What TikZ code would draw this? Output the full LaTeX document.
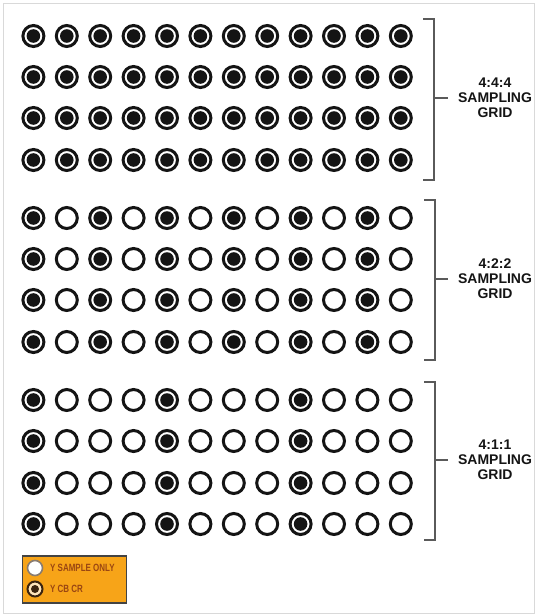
\documentclass[tikz,border=0pt]{standalone}
\usepackage{fontspec}
\setmainfont{Liberation Sans}
\newfontfamily\legfont[FakeStretch=0.76]{Liberation Sans}
\definecolor{ink}{HTML}{141414}
\definecolor{legendbg}{HTML}{F7A418}
\definecolor{legendtx}{HTML}{9A4612}
\definecolor{legring}{HTML}{3A2410}
\tikzset{
  yonly/.style={circle, draw=ink, line width=3pt, fill=white, minimum size=21pt, inner sep=0pt},
  ycbcr/.style={yonly, path picture={\fill[ink] (path picture bounding box.center) circle (6.8pt);}},
  bracket/.style={draw=ink!70, line width=1.3pt},
  gridlabel/.style={font=\bfseries\fontsize{14}{15}\selectfont, align=center, text=ink, inner sep=1pt},
  legtext/.style={font=\legfont\bfseries\fontsize{10.5}{12}\selectfont, text=legendtx, anchor=west, inner sep=0pt},
}
\begin{document}
\begin{tikzpicture}[x=1pt, y=-1pt]
\useasboundingbox (0,0) rectangle (537,616);
\draw[gray!30, line width=0.8pt] (3,3) rectangle (534,613);
% group 1 : 4:4:4
\foreach \r/\y in {1/36,2/77,3/118,4/160}{
  \foreach \c in {0,...,11}{
    \node[ycbcr] (a-\r-\c) at ({33.4+33.4*\c},\y) {};
  }
}
% group 2 : 4:2:2
\foreach \r/\y in {1/218,2/259,3/300,4/342}{
  \foreach \c in {0,...,11}{
    \pgfmathtruncatemacro{\m}{mod(\c,2)}
    \ifnum\m=0
      \node[ycbcr] (b-\r-\c) at ({33.4+33.4*\c},\y) {};
    \else
      \node[yonly] (b-\r-\c) at ({33.4+33.4*\c},\y) {};
    \fi
  }
}
% group 3 : 4:1:1
\foreach \r/\y in {1/400,2/441,3/483,4/524}{
  \foreach \c in {0,...,11}{
    \pgfmathtruncatemacro{\m}{mod(\c,4)}
    \ifnum\m=0
      \node[ycbcr] (c-\r-\c) at ({33.4+33.4*\c},\y) {};
    \else
      \node[yonly] (c-\r-\c) at ({33.4+33.4*\c},\y) {};
    \fi
  }
}
% labels
\node[gridlabel] (l1) at (495,98) {4:4:4\\SAMPLING\\GRID};
\node[gridlabel] (l2) at (495,279) {4:2:2\\SAMPLING\\GRID};
\node[gridlabel] (l3) at (495,460) {4:1:1\\SAMPLING\\GRID};
% brackets
\coordinate (m1) at (434,98);
\coordinate (m2) at (435,279);
\coordinate (m3) at (435,460);
\draw[bracket] (423,19) -- (434,19) -- (434,180) -- (423,180);
\draw[bracket] (424,200) -- (435,200) -- (435,360) -- (424,360);
\draw[bracket] (424,382) -- (435,382) -- (435,540) -- (424,540);
\draw[bracket, shorten >=9pt] (m1) -- (m1 -| l1.west);
\draw[bracket, shorten >=9pt] (m2) -- (m2 -| l2.west);
\draw[bracket, shorten >=9pt] (m3) -- (m3 -| l3.west);
% legend
\node[draw=ink!80, line width=1.3pt, fill=legendbg, minimum width=104pt, minimum height=47pt, inner sep=0pt] (leg) at (74.5,579.5) {};
\node[circle, draw=legring!60, line width=1.6pt, fill=white, minimum size=15pt, inner sep=0pt] (lk1) at (35,568) {};
\node[circle, draw=legring, line width=2pt, fill=white!70!legendbg, minimum size=15pt, inner sep=0pt,
      path picture={\fill[legring] (path picture bounding box.center) circle (4pt);}] (lk2) at (35,589) {};
\node[legtext] (lt1) at (50,568) {Y SAMPLE ONLY};
\node[legtext] (lt2) at (50,589) {Y CB CR};
\end{tikzpicture}
\end{document}
